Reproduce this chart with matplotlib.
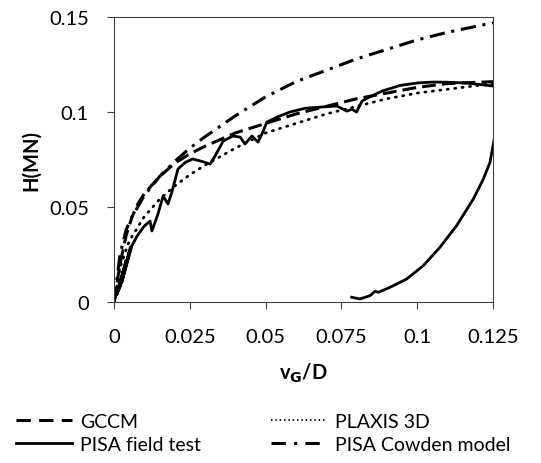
"""Lateral load vs. normalised ground-level displacement: PISA field test and models."""

import numpy as np
from matplotlib import pyplot as plt
from matplotlib.lines import Line2D

plt.rcParams['font.family'] = ['Lato', 'DejaVu Sans']

# GCCM (dashed)
gccm_x = [0, 0.002, 0.004, 0.006, 0.008, 0.01, 0.015, 0.02, 0.025, 0.03, 0.04, 0.05,
          0.06, 0.07, 0.08, 0.09, 0.1, 0.11, 0.125]
gccm_h = [0, 0.02, 0.035, 0.045, 0.052, 0.057, 0.066, 0.073, 0.078, 0.082, 0.089, 0.094,
          0.099, 0.103, 0.107, 0.110, 0.113, 0.115, 0.116]

# PLAXIS 3D (dotted)
plaxis_x = [0, 0.002, 0.005, 0.01, 0.015, 0.02, 0.025, 0.03, 0.04, 0.05, 0.06, 0.07,
            0.08, 0.09, 0.1, 0.11, 0.125]
plaxis_h = [0, 0.018, 0.032, 0.045, 0.054, 0.061, 0.067, 0.072, 0.081, 0.089, 0.094, 0.099,
            0.103, 0.107, 0.110, 0.112, 0.115]

# PISA Cowden model (dash-dot)
cowden_x = [0, 0.002, 0.004, 0.006, 0.01, 0.015, 0.02, 0.025, 0.03, 0.04, 0.05, 0.06,
            0.07, 0.08, 0.09, 0.1, 0.11, 0.125]
cowden_h = [0, 0.025, 0.038, 0.045, 0.056, 0.066, 0.074, 0.081, 0.087, 0.098, 0.108, 0.116,
            0.122, 0.128, 0.133, 0.138, 0.142, 0.147]

# PISA field test (solid): small cycles, loading, unloading
field_x = [0, 0.003, 0.001, 0.004, 0.0015, 0.005, 0.002, 0.0055, 0.0025, 0.0059,
           0.0076, 0.0100, 0.0119, 0.0125, 0.0145, 0.0162, 0.0178, 0.0191, 0.0211, 0.0235,
           0.026, 0.029, 0.0317, 0.0333, 0.036, 0.0392, 0.0416, 0.0432, 0.0455, 0.0475,
           0.0491, 0.0504, 0.054, 0.058, 0.063, 0.068, 0.0735, 0.0768, 0.0785, 0.080,
           0.0818, 0.0850, 0.0887, 0.0943, 0.100, 0.1052, 0.110, 0.1164, 0.125, 0.1275,
           0.127, 0.1251, 0.124, 0.1218, 0.1185, 0.113, 0.1075, 0.102, 0.0965, 0.091,
           0.0872, 0.0861, 0.0844, 0.0811, 0.0784]
field_h = [0, 0.016, 0.004, 0.022, 0.006, 0.026, 0.008, 0.029, 0.01, 0.0295,
           0.0347, 0.0400, 0.0426, 0.0374, 0.0463, 0.0558, 0.0516, 0.0579, 0.0700, 0.0735,
           0.0753, 0.0740, 0.0726, 0.0768, 0.0847, 0.0874, 0.0868, 0.0832, 0.0874, 0.0842,
           0.0895, 0.0947, 0.0975, 0.1000, 0.1020, 0.1026, 0.1032, 0.1005, 0.1015, 0.1000,
           0.1058, 0.1085, 0.1112, 0.1140, 0.1153, 0.1158, 0.1157, 0.1153, 0.1137, 0.112,
           0.100, 0.0832, 0.0735, 0.0647, 0.0542, 0.0402, 0.0288, 0.0191, 0.0121, 0.0077,
           0.0051, 0.0056, 0.0033, 0.0016, 0.0025]

x_ticks = [0, 0.025, 0.05, 0.075, 0.1, 0.125]
x_tick_labels = ['0', '0.025', '0.05', '0.075', '0.1', '0.125']
y_ticks = [0, 0.05, 0.1, 0.15]
y_tick_labels = ['0', '0.05', '0.1', '0.15']

fig = plt.figure(figsize=(5.41, 4.64), dpi=100)
ax = fig.add_axes([0.2107, 0.347, 0.7006, 0.614])

style_gccm = dict(color='black', lw=2.2, linestyle=(0, (4.5, 2)))
style_plaxis = dict(color='black', lw=2.0, linestyle=(0, (0.4, 2.3)), dash_capstyle='round')
style_field = dict(color='black', lw=2.0, linestyle='-')
style_cowden = dict(color='black', lw=2.2, linestyle=(0, (5, 2.2, 1, 2.2)))

ax.plot(cowden_x, cowden_h, **style_cowden)
ax.plot(plaxis_x, plaxis_h, **style_plaxis)
ax.plot(gccm_x, gccm_h, **style_gccm)
ax.plot(field_x, field_h, **style_field)

ax.set_xlim(0, 0.125)
ax.set_ylim(0, 0.15)
ax.set_xticks(x_ticks)
ax.set_xticklabels(x_tick_labels)
ax.set_yticks(y_ticks)
ax.set_yticklabels(y_tick_labels)
ax.tick_params(direction='out', length=5, width=0.8, labelsize=14.5, color='#404040')
ax.tick_params(axis='x', pad=14)
ax.tick_params(axis='y', pad=13)
for s in ax.spines.values():
    s.set_linewidth(0.8)
    s.set_color('#404040')

ax.set_xlabel(r'v$_\mathbf{G}$/D', fontsize=14.5, fontweight='bold', labelpad=11)
ax.set_ylabel('H(MN)', fontsize=14.5, fontweight='bold', labelpad=6)

# legend handles with the longer dashes seen in the legend
handles = [Line2D([], [], color='black', lw=2.2, linestyle=(0, (4.7, 2.7))),
           Line2D([], [], **style_field),
           Line2D([], [], color='black', lw=1.3, linestyle=(0, (0.8, 1.6))),
           Line2D([], [], color='black', lw=2.2, linestyle=(0, (4.7, 2.7, 1, 2.7)))]
labels = ['GCCM', 'PISA field test', 'PLAXIS 3D', 'PISA Cowden model']
fig.legend(handles, labels, ncol=2, loc='upper left', bbox_to_anchor=(0.015, 0.124),
           frameon=False, fontsize=14, handlelength=2.9, handletextpad=0.4,
           columnspacing=3.6, labelspacing=0.3, borderaxespad=0)

fig.savefig('out.png', dpi=100)
